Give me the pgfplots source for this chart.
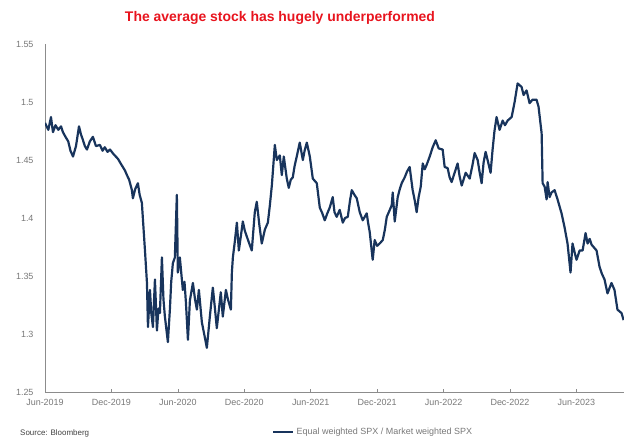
\documentclass[border=0pt]{standalone}
\usepackage{fontspec}
\setmainfont{Liberation Sans}
\usepackage{pgfplots}
\pgfplotsset{compat=1.18}
\usepackage{pgfplotstable}

\definecolor{navy}{RGB}{24,52,92}
\definecolor{ticktext}{RGB}{120,120,120}
\definecolor{axisgray}{RGB}{140,140,140}
\definecolor{titlered}{RGB}{232,20,30}

% months since Jun-2019, ratio
\pgfplotstableread{
m v
0 1.482
0.3 1.476
0.54 1.487
0.72 1.474
0.95 1.480
1.2 1.476
1.45 1.479
1.62 1.474
1.85 1.470
2.1 1.466
2.3 1.458
2.53 1.453
2.8 1.462
3.07 1.479
3.25 1.472
3.4 1.468
3.6 1.462
3.79 1.459
4.05 1.466
4.33 1.470
4.6 1.462
4.96 1.463
5.2 1.458
5.4 1.461
5.65 1.457
5.87 1.459
6.2 1.455
6.59 1.451
6.9 1.446
7.22 1.441
7.4 1.437
7.6 1.433
7.85 1.424
7.94 1.417
8.15 1.425
8.39 1.430
8.55 1.420
8.75 1.413
9.03 1.372
9.21 1.344
9.30 1.306
9.48 1.338
9.6 1.318
9.75 1.306
9.93 1.347
10.11 1.303
10.25 1.322
10.38 1.318
10.56 1.366
10.7 1.330
10.83 1.315
11.10 1.293
11.28 1.321
11.4 1.345
11.55 1.361
11.73 1.366
11.91 1.420
12.00 1.353
12.18 1.366
12.45 1.338
12.6 1.345
12.73 1.327
12.91 1.295
13.09 1.329
13.36 1.344
13.55 1.330
13.72 1.321
13.90 1.338
14.17 1.310
14.44 1.297
14.62 1.288
14.89 1.315
15.16 1.340
15.35 1.322
15.52 1.305
15.88 1.336
16.06 1.315
16.34 1.338
16.52 1.330
16.79 1.321
16.88 1.353
16.97 1.366
17.15 1.380
17.33 1.396
17.51 1.372
17.7 1.385
17.87 1.397
18.05 1.389
18.23 1.384
18.45 1.378
18.68 1.372
18.95 1.405
19.13 1.414
19.35 1.395
19.58 1.378
19.86 1.390
20.13 1.396
20.3 1.410
20.49 1.428
20.76 1.463
20.94 1.450
21.21 1.454
21.39 1.437
21.57 1.453
21.84 1.434
22.02 1.426
22.2 1.433
22.38 1.435
22.55 1.445
22.74 1.453
23.01 1.465
23.29 1.450
23.45 1.458
23.65 1.465
23.92 1.453
24.19 1.434
24.55 1.430
24.82 1.409
25.05 1.404
25.27 1.398
25.5 1.404
25.72 1.409
25.99 1.418
26.15 1.405
26.35 1.401
26.62 1.407
26.90 1.396
27.1 1.400
27.35 1.401
27.55 1.415
27.71 1.424
27.95 1.420
28.16 1.417
28.43 1.405
28.70 1.398
29.06 1.404
29.2 1.395
29.33 1.388
29.60 1.364
29.78 1.381
30.0 1.376
30.23 1.378
30.51 1.381
30.7 1.390
30.87 1.401
31.1 1.406
31.32 1.411
31.41 1.422
31.59 1.397
31.86 1.418
32.05 1.425
32.22 1.430
32.49 1.435
32.7 1.440
32.94 1.444
33.21 1.424
33.4 1.415
33.57 1.405
33.75 1.418
33.94 1.427
34.12 1.447
34.3 1.442
34.48 1.446
34.75 1.453
35.02 1.461
35.29 1.467
35.56 1.460
35.92 1.459
36.10 1.444
36.37 1.443
36.55 1.435
36.73 1.431
37.00 1.439
37.27 1.447
37.45 1.436
37.64 1.428
38.00 1.439
38.36 1.434
38.6 1.445
38.81 1.456
39.08 1.450
39.25 1.440
39.44 1.430
39.62 1.448
39.80 1.457
39.98 1.450
40.25 1.439
40.43 1.459
40.6 1.475
40.79 1.487
41.06 1.476
41.34 1.484
41.55 1.480
41.79 1.484
42.15 1.487
42.42 1.500
42.69 1.516
43.05 1.513
43.23 1.506
43.50 1.510
43.77 1.499
44.04 1.502
44.40 1.502
44.58 1.496
44.86 1.473
44.95 1.430
45.13 1.427
45.31 1.416
45.40 1.431
45.58 1.418
45.76 1.422
46.03 1.424
46.30 1.416
46.66 1.404
46.93 1.392
47.20 1.378
47.47 1.353
47.65 1.378
47.85 1.370
48.01 1.364
48.29 1.372
48.56 1.372
48.83 1.387
49.01 1.378
49.2 1.382
49.37 1.377
49.82 1.372
50.09 1.358
50.3 1.352
50.54 1.347
50.81 1.335
51.17 1.344
51.44 1.338
51.71 1.321
52.08 1.318
52.26 1.312
}\ratio

\begin{document}
\begin{tikzpicture}
\path[use as bounding box] (0,0) rectangle (624bp,444bp);
\begin{axis}[
    at={(45bp,52bp)}, anchor=south west,
    scale only axis, width=579bp, height=348bp,
    xmin=0, xmax=52.3, ymin=1.25, ymax=1.55,
    axis x line*=bottom, axis y line*=left,
    axis line style={axisgray, line width=0.8pt},
    xtick={0,6,...,48},
    xticklabels={Jun-2019,Dec-2019,Jun-2020,Dec-2020,Jun-2021,Dec-2021,Jun-2022,Dec-2022,Jun-2023},
    ytick={1.25,1.3,...,1.56},
    yticklabels={1.25,1.3,1.35,1.4,1.45,1.5,1.55},
    tick align=inside,
    x tick style={axisgray, line width=0.6pt}, major tick length=3bp,
    y tick style={draw=none},
    tick label style={font=\fontsize{9}{10}\selectfont, text=ticktext},
    yticklabel style={xshift=-8bp},
    xticklabel style={yshift=-4bp},
    clip=true,
    legend style={at={(0.392,-0.115)}, anchor=west, draw=none, fill=none,
        font=\fontsize{9}{10}\selectfont, text=ticktext, inner sep=0pt},
    legend image code/.code={\draw[navy, line width=2.5pt] (0bp,0bp) -- (20bp,0bp);},
]
\addplot[navy, line width=2.2pt, line join=round] table[x=m, y=v] {\ratio};
\addlegendentry{Equal weighted SPX / Market weighted SPX}
\end{axis}
\node[text=titlered, font=\bfseries\fontsize{14}{16}\selectfont] at (280bp,426bp) {The average stock has hugely underperformed};
\node[anchor=west, text=black!75, font=\fontsize{8}{9}\selectfont, inner sep=0pt] at (20bp,11bp) {Source: Bloomberg};
\end{tikzpicture}
\end{document}
